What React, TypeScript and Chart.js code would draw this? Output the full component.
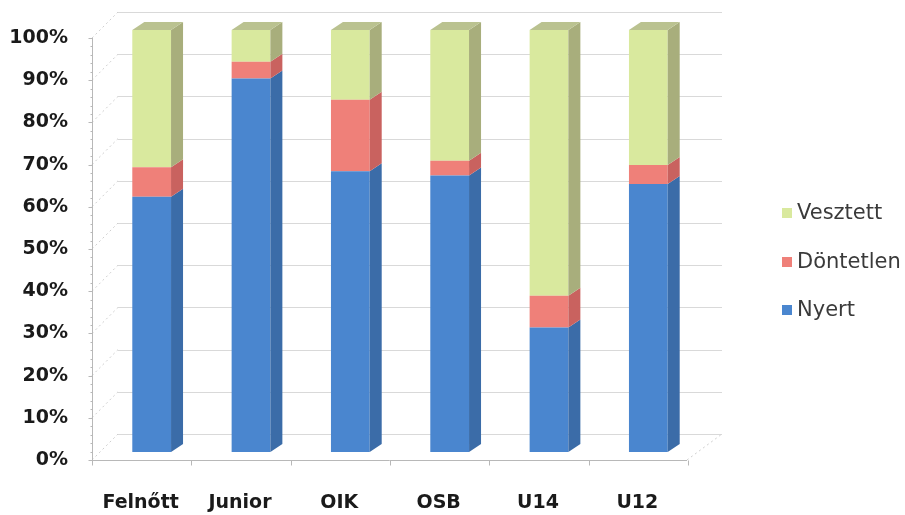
import { useEffect, useRef } from 'react';
import { Chart, registerables } from 'chart.js';

Chart.register(...registerables);

const categories = ['Felnőtt', 'Junior', 'OIK', 'OSB', 'U14', 'U12'];
const nyert = [60.5, 88.5, 66.5, 65.5, 29.5, 63.5];
const dontetlen = [7, 4, 17, 3.5, 7.5, 4.5];
const vesztett = [32.5, 7.5, 16.5, 31, 63, 32];
const seriesNames = ['Nyert', 'Döntetlen', 'Vesztett'];
const yTickLabels = ['0%', '10%', '20%', '30%', '40%', '50%', '60%', '70%', '80%', '90%', '100%'];

const FRONT = ['#4a86cf', '#ef8079', '#d9e99e'];
const SIDE = ['#3b6ca8', '#c9625f', '#a8ae7c'];
const TOP = '#bac290';
const FONT = '"DejaVu Sans", Verdana, sans-serif';

const DX = 12;
const DY = 8;

const depthPlugin = {
  id: 'depth3d',
  beforeDatasetsDraw(chart: any) {
    const { ctx, chartArea, scales } = chart;
    const ys = scales.y;
    const frontX = chartArea.left - 10;
    const backL = chartArea.left + 16;
    const backR = chartArea.right + 24;
    const floorR = chartArea.right - 11;
    ctx.save();
    ctx.strokeStyle = '#d9d9d9';
    ctx.lineWidth = 1;
    for (let v = 0; v <= 100; v += 10) {
      const yb = Math.round(ys.getPixelForValue(v) - 18) + 0.5;
      ctx.beginPath();
      ctx.moveTo(backL, yb);
      ctx.lineTo(backR, yb);
      ctx.stroke();
    }
    ctx.setLineDash([2, 3]);
    ctx.strokeStyle = '#cfcfcf';
    for (let v = 0; v <= 100; v += 10) {
      const yf = ys.getPixelForValue(v) + 8;
      const yb = ys.getPixelForValue(v) - 18;
      ctx.beginPath();
      ctx.moveTo(frontX, yf);
      ctx.lineTo(backL, yb);
      ctx.stroke();
    }
    const y0f = ys.getPixelForValue(0) + 8;
    const y0b = ys.getPixelForValue(0) - 18;
    ctx.beginPath();
    ctx.moveTo(floorR, y0f);
    ctx.lineTo(backR, y0b);
    ctx.stroke();
    ctx.setLineDash([]);
    ctx.strokeStyle = '#b8b8b8';
    const x = Math.round(frontX) + 0.5;
    ctx.beginPath();
    ctx.moveTo(x, ys.getPixelForValue(100) + 8);
    ctx.lineTo(x, y0f);
    ctx.stroke();
    for (let v = 0; v <= 100; v += 2) {
      const yy = Math.round(ys.getPixelForValue(v) + 8) + 0.5;
      ctx.beginPath();
      ctx.moveTo(x - (v % 10 === 0 ? 4 : 2), yy);
      ctx.lineTo(x, yy);
      ctx.stroke();
    }
    const yf0 = Math.round(y0f) + 0.5;
    ctx.beginPath();
    ctx.moveTo(frontX, yf0);
    ctx.lineTo(floorR, yf0);
    ctx.stroke();
    const xs = scales.x;
    for (let i = 0; i <= categories.length; i++) {
      const px = Math.round(xs.getPixelForValue(i - 0.5) - 10) + 0.5;
      ctx.beginPath();
      ctx.moveTo(px, yf0);
      ctx.lineTo(px, yf0 + 5);
      ctx.stroke();
    }
    ctx.restore();
  },
  afterDatasetsDraw(chart: any) {
    const { ctx } = chart;
    ctx.save();
    const n = chart.data.datasets.length;
    for (let d = 0; d < n; d++) {
      const meta = chart.getDatasetMeta(d);
      meta.data.forEach((bar: any) => {
        const { x, y, base, width } = bar.getProps(['x', 'y', 'base', 'width'], true);
        const r = x + width / 2;
        const l = x - width / 2;
        ctx.fillStyle = SIDE[d];
        ctx.beginPath();
        ctx.moveTo(r, y);
        ctx.lineTo(r + DX, y - DY);
        ctx.lineTo(r + DX, base - DY);
        ctx.lineTo(r, base);
        ctx.closePath();
        ctx.fill();
        if (d === n - 1) {
          ctx.fillStyle = TOP;
          ctx.beginPath();
          ctx.moveTo(l, y);
          ctx.lineTo(l + DX, y - DY);
          ctx.lineTo(r + DX, y - DY);
          ctx.lineTo(r, y);
          ctx.closePath();
          ctx.fill();
        }
      });
    }
    ctx.restore();
  },
  afterDraw(chart: any) {
    const { ctx, chartArea } = chart;
    ctx.save();
    const lx = chartArea.right + 84;
    const ys = [213, 262, 310];
    const order = [2, 1, 0];
    ctx.font = `21px ${FONT}`;
    ctx.textBaseline = 'middle';
    order.forEach((d, i) => {
      const ds = chart.data.datasets[d];
      ctx.fillStyle = ds.backgroundColor;
      ctx.fillRect(lx, ys[i] - 5, 10, 10);
      ctx.fillStyle = '#3a3a3a';
      ctx.fillText(ds.label, lx + 15, ys[i] + 1);
    });
    ctx.restore();
  },
};

export default function App() {
  const ref = useRef<HTMLCanvasElement>(null);
  useEffect(() => {
    if (!ref.current) return;
    const chart = new Chart(ref.current, {
      type: 'bar',
      data: {
        labels: categories,
        datasets: [
          { label: seriesNames[0], data: nyert, backgroundColor: FRONT[0] },
          { label: seriesNames[1], data: dontetlen, backgroundColor: FRONT[1] },
          { label: seriesNames[2], data: vesztett, backgroundColor: FRONT[2] },
        ],
      },
      options: {
        animation: false,
        responsive: false,
        events: [],
        layout: { padding: { left: 0, top: 30, right: 207, bottom: 0 } },
        datasets: { bar: { categoryPercentage: 1, barPercentage: 0.39, borderWidth: 0 } },
        plugins: { legend: { display: false }, tooltip: { enabled: false } },
        scales: {
          x: {
            stacked: true,
            grid: { display: false, drawTicks: false },
            border: { display: false },
            ticks: {
              padding: 40,
              labelOffset: -11,
              color: '#1a1a1a',
              font: { family: FONT, size: 19, weight: 'bold' },
            },
            afterFit: (s: any) => { s.height = 63; s.paddingLeft = 0; s.paddingRight = 0; },
          },
          y: {
            stacked: true,
            min: 0,
            max: 100,
            grid: { display: false, drawTicks: false },
            border: { display: false },
            ticks: {
              stepSize: 10,
              padding: 34,
              labelOffset: 8,
              color: '#1a1a1a',
              font: { family: FONT, size: 19, weight: 'bold' },
              callback: (v: any) => yTickLabels[Math.round(Number(v) / 10)],
            },
            afterFit: (s: any) => { s.width = 102; s.paddingTop = 0; s.paddingBottom = 0; },
          },
        },
      },
      plugins: [depthPlugin],
    } as any);
    return () => chart.destroy();
  }, []);
  return (
    <div style={{ position: 'absolute', left: 0, top: 0, width: 905, height: 515, background: '#fff' }}>
      <canvas ref={ref} width={905} height={515} />
    </div>
  );
}
